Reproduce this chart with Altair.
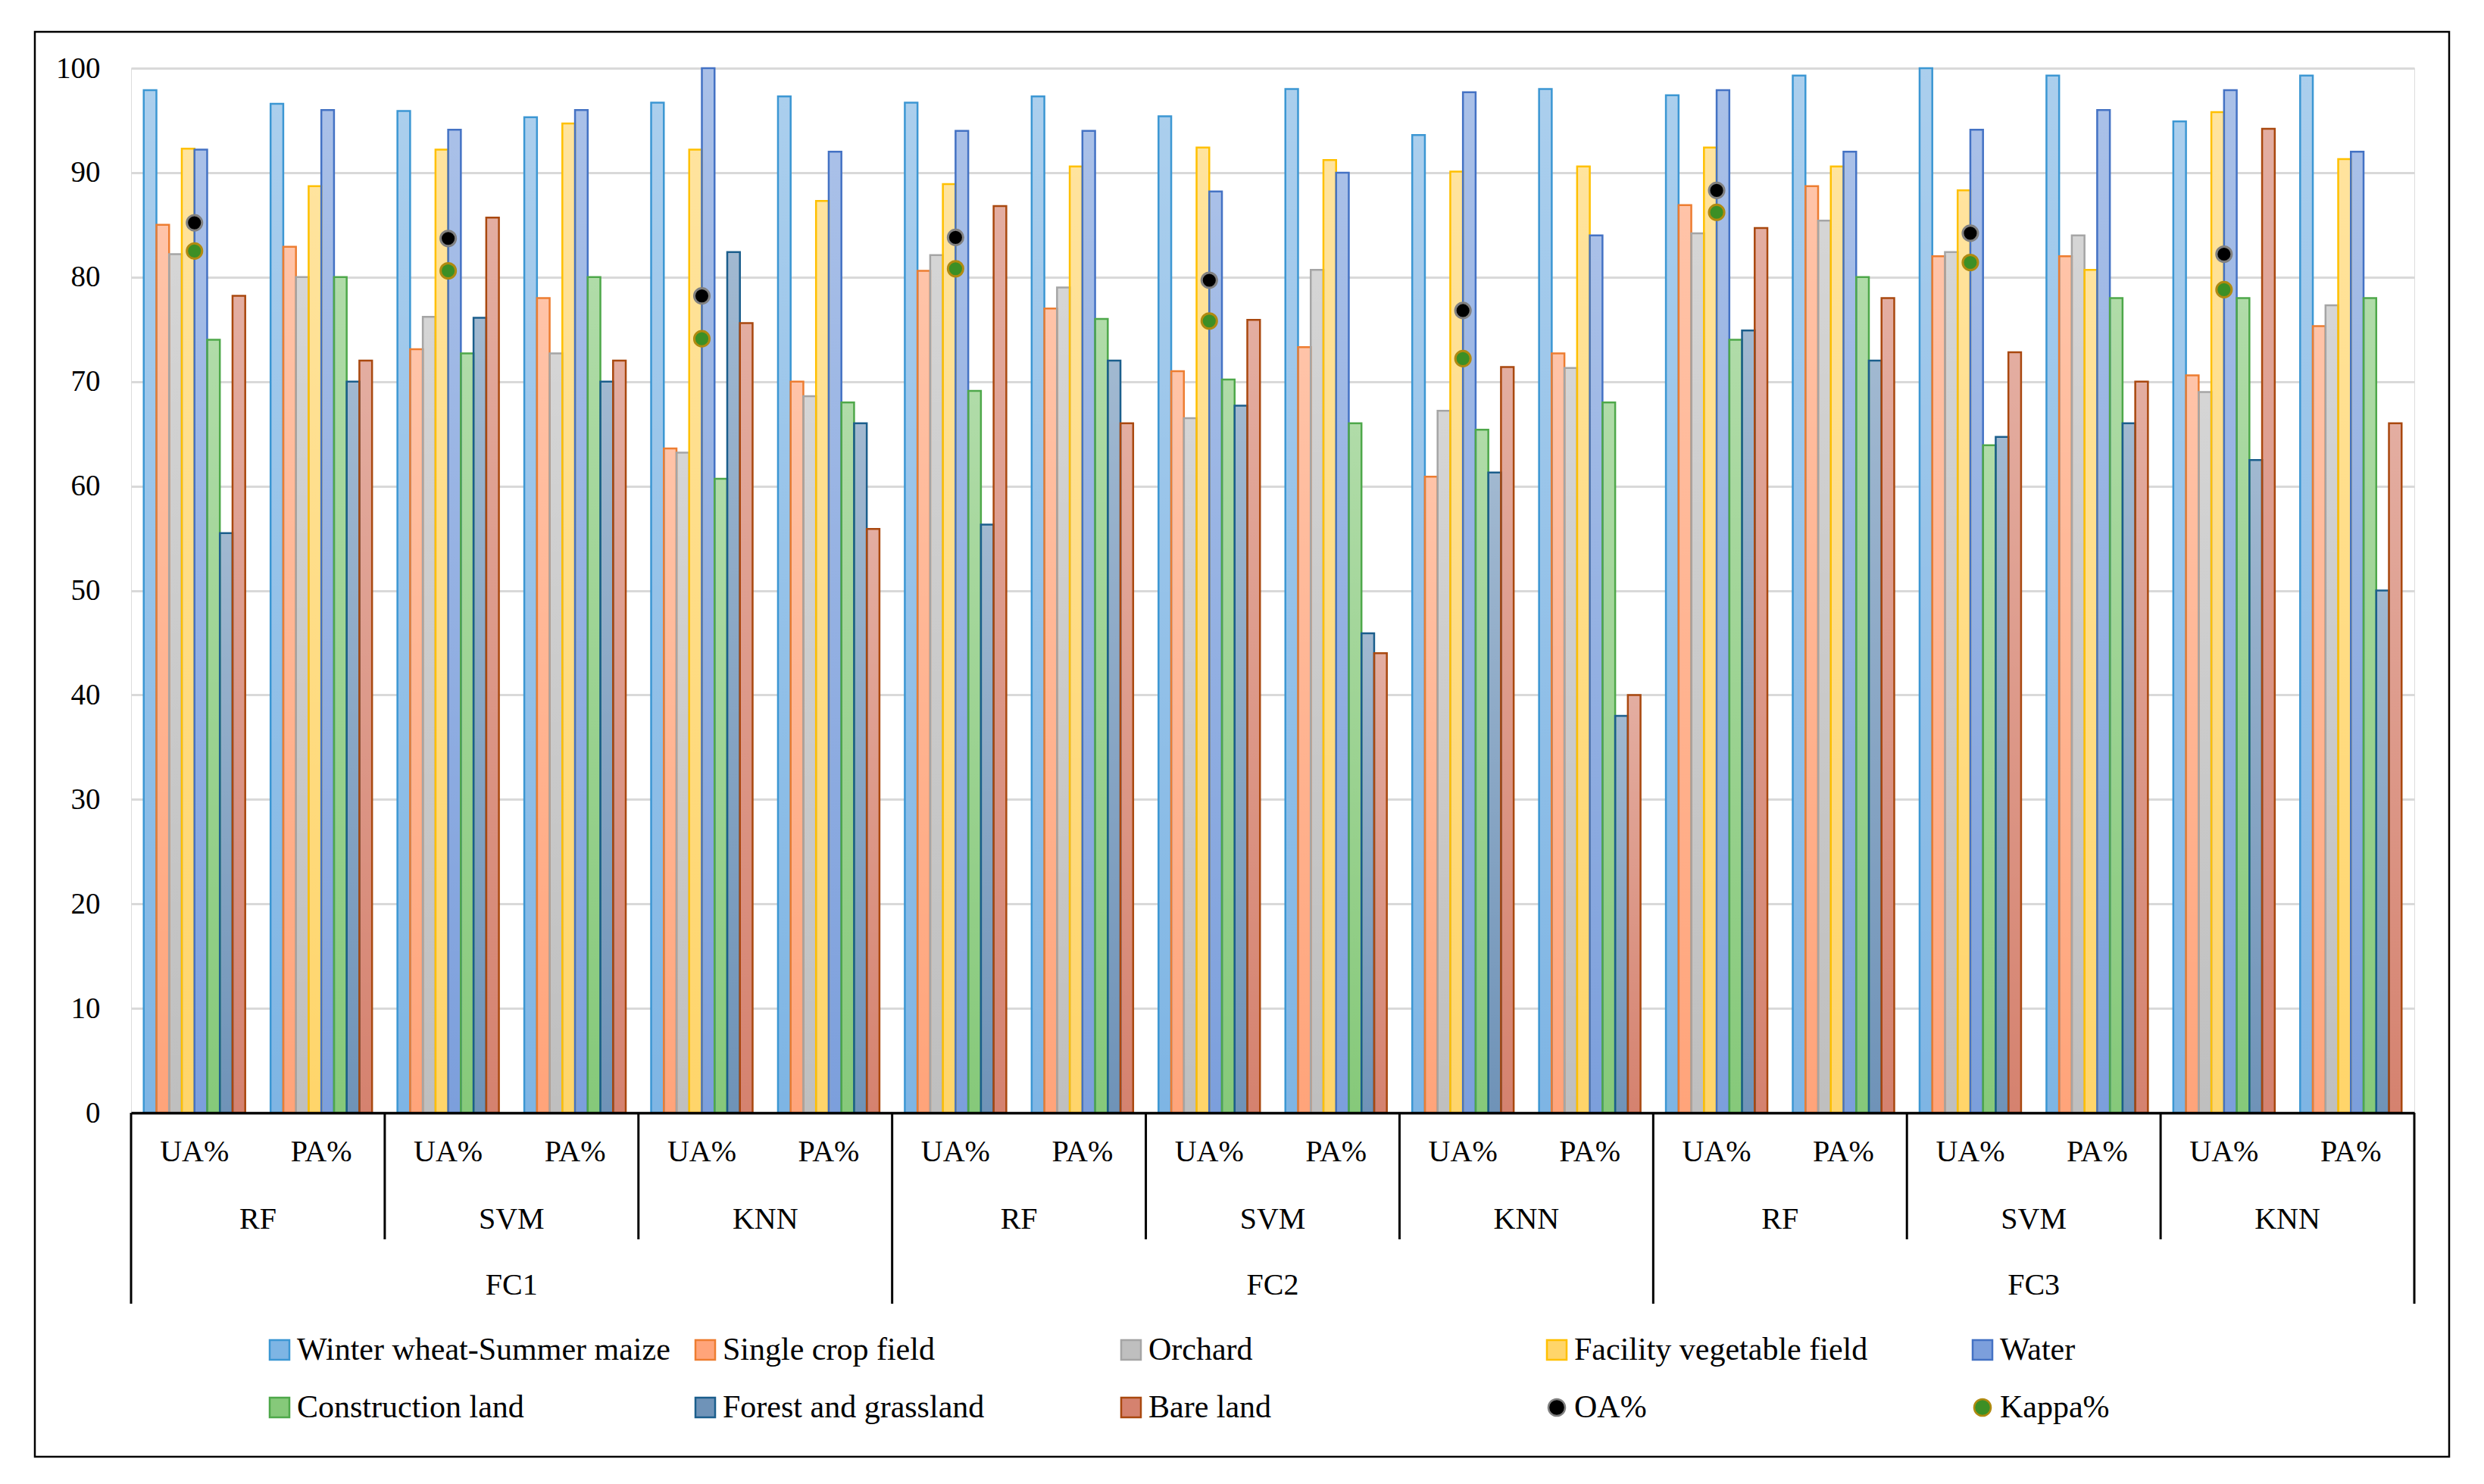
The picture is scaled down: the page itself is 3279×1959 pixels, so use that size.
import altair as alt
import pandas as pd

# ---------------- data ----------------
feature_sets = ["FC1", "FC2", "FC3"]
methods = ["RF", "SVM", "KNN"]
metrics = ["UA%", "PA%"]

classes = [
    "Winter wheat-Summer maize",
    "Single crop field",
    "Orchard",
    "Facility vegetable field",
    "Water",
    "Construction land",
    "Forest and grassland",
    "Bare land",
]

# 18 values each: FC1 RF UA, FC1 RF PA, FC1 SVM UA, ... FC3 KNN PA
winter_wheat = [97.9, 96.6, 95.9, 95.3, 96.7, 97.3, 96.7, 97.3, 95.4, 98.0, 93.6, 98.0, 97.4, 99.3, 100.0, 99.3, 94.9, 99.3]
single_crop = [85.0, 82.9, 73.1, 78.0, 63.6, 70.0, 80.6, 77.0, 71.0, 73.3, 60.9, 72.7, 86.9, 88.7, 82.0, 82.0, 70.6, 75.3]
orchard = [82.2, 80.0, 76.2, 72.7, 63.2, 68.6, 82.1, 79.0, 66.5, 80.7, 67.2, 71.3, 84.2, 85.4, 82.4, 84.0, 69.0, 77.3]
facility = [92.3, 88.7, 92.2, 94.7, 92.2, 87.3, 88.9, 90.6, 92.4, 91.2, 90.1, 90.6, 92.4, 90.6, 88.3, 80.7, 95.8, 91.3]
water = [92.2, 96.0, 94.1, 96.0, 100.0, 92.0, 94.0, 94.0, 88.2, 90.0, 97.7, 84.0, 97.9, 92.0, 94.1, 96.0, 97.9, 92.0]
construction = [74.0, 80.0, 72.7, 80.0, 60.7, 68.0, 69.1, 76.0, 70.2, 66.0, 65.4, 68.0, 74.0, 80.0, 63.9, 78.0, 78.0, 78.0]
forest = [55.5, 70.0, 76.1, 70.0, 82.4, 66.0, 56.3, 72.0, 67.7, 45.9, 61.3, 38.0, 74.9, 72.0, 64.7, 66.0, 62.5, 50.0]
bare = [78.2, 72.0, 85.7, 72.0, 75.6, 55.9, 86.8, 66.0, 75.9, 44.0, 71.4, 40.0, 84.7, 78.0, 72.8, 70.0, 94.2, 66.0]

# 9 values each, for the UA% groups only
oa = [85.2, 83.7, 78.2, 83.8, 79.7, 76.8, 88.3, 84.2, 82.2]
kappa = [82.5, 80.6, 74.1, 80.8, 75.8, 72.2, 86.2, 81.4, 78.8]

series_values = [winter_wheat, single_crop, orchard, facility, water, construction, forest, bare]

cats = [f"{fc}|{m}|{a}" for fc in feature_sets for m in methods for a in metrics]
ua_cats = [c for c in cats if c.endswith("UA%")]

bar_rows = []
for cls, vals in zip(classes, series_values):
    for c, v in zip(cats, vals):
        bar_rows.append({"cat": c, "series": cls, "value": v})
bars_df = pd.DataFrame(bar_rows)

pt_rows = []
for name, vals in (("OA%", oa), ("Kappa%", kappa)):
    for c, v in zip(ua_cats, vals):
        pt_rows.append({"cat": c, "series": name, "value": v})
pts_df = pd.DataFrame(pt_rows)

# hierarchical axis labels (positions in band-step units derived from the category order)
method_rows, fc_rows, msep_rows, fsep_rows = [], [], [], []
n_per_fc = len(methods) * len(metrics)
for fi, fc in enumerate(feature_sets):
    fc_rows.append({"pos": fi * n_per_fc + n_per_fc / 2, "label": fc})
    fsep_rows.append({"pos": fi * n_per_fc})
    for mi, m in enumerate(methods):
        start = fi * n_per_fc + mi * len(metrics)
        method_rows.append({"pos": start + len(metrics) / 2, "label": m})
        if mi > 0:
            msep_rows.append({"pos": start})
fsep_rows.append({"pos": len(cats)})
method_df = pd.DataFrame(method_rows)
fc_df = pd.DataFrame(fc_rows)
msep_df = pd.DataFrame(msep_rows)
fsep_df = pd.DataFrame(fsep_rows)

# ---------------- styling ----------------
FONT = "Liberation Serif"
W, H = 3014, 1379

legend_domain = classes + ["OA%", "Kappa%"]
fill_colors = ["#7EB5E4", "#FFA47A", "#BFBFBF", "#FFD56A", "#7C9FDC", "#86C97A", "#6F93B8", "#D5826F",
               "#000000", "#3C8F25"]
stroke_colors = ["#3C97D3", "#ED7D31", "#A5A5A5", "#FFC000", "#4472C4", "#4EA84A", "#1B5E8C", "#A9480F",
                 "#808080", "#B08A10"]
SQUARE = "M-1,-1L1,-1L1,1L-1,1Z"
CIRCLE = "M0.85,0A0.85,0.85 0 1,1 -0.85,0A0.85,0.85 0 1,1 0.85,0Z"
shapes = [SQUARE] * len(classes) + [CIRCLE, CIRCLE]

legend = alt.Legend(
    title=None, orient="none", legendX=175, legendY=1671, columns=5, direction="horizontal",
    gridAlign="all",
    symbolSize=676, symbolStrokeWidth=2.5, labelFontSize=42, labelFont=FONT, labelColor="black",
    labelLimit=1000, labelOffset=2, columnPadding=25, rowPadding=34, padding=0,
)

fill_enc = alt.Fill("series:N", scale=alt.Scale(domain=legend_domain, range=fill_colors), legend=legend)
stroke_enc = alt.Stroke("series:N", scale=alt.Scale(domain=legend_domain, range=stroke_colors), legend=legend)
shape_enc = alt.Shape("series:N", scale=alt.Scale(domain=legend_domain, range=shapes), legend=legend)

x_enc = alt.X(
    "cat:N", sort=cats, title=None,
    scale=alt.Scale(domain=cats, paddingInner=0.2, paddingOuter=0.1),
    axis=alt.Axis(
        labelExpr="split(datum.label, '|')[2]", labelAngle=0, labelFont=FONT, labelFontSize=40,
        labelColor="black", labelBaseline="middle", labelPadding=51, ticks=False,
        domainColor="black", domainWidth=3.5, grid=False, zindex=1,
    ),
)
xoff_enc = alt.XOffset("series:N", sort=classes, scale=alt.Scale(domain=classes))
y_enc = alt.Y(
    "value:Q", title=None,
    scale=alt.Scale(domain=[0, 100], nice=False),
    axis=alt.Axis(
        values=list(range(0, 101, 10)), domain=False, ticks=False, labelPadding=41,
        labelFont=FONT, labelFontSize=39, labelColor="black",
        grid=True, gridColor="#D9D9D9", gridWidth=3,
    ),
)

base_bars = alt.Chart(bars_df).mark_bar(strokeWidth=0).encode(
    x=x_enc, xOffset=xoff_enc, y=y_enc, fill=fill_enc
)
shine = alt.Chart(bars_df).mark_bar(
    strokeWidth=0,
    fill=alt.LinearGradient(
        gradient="linear", x1=0, x2=0, y1=0, y2=1,
        stops=[alt.GradientStop(color="rgba(255,255,255,0.35)", offset=0),
               alt.GradientStop(color="rgba(255,255,255,0)", offset=1)],
    ),
).encode(x=x_enc, xOffset=xoff_enc, y=y_enc)
outline = alt.Chart(bars_df).mark_bar(fill="transparent", strokeWidth=2.5).encode(
    x=x_enc, xOffset=xoff_enc, y=y_enc, stroke=stroke_enc
)
points = alt.Chart(pts_df).mark_point(filled=True, size=560, strokeWidth=3, opacity=1).encode(
    x=x_enc, y=y_enc, fill=fill_enc, stroke=stroke_enc, shape=shape_enc
)

plot = alt.layer(base_bars, shine, outline, points)

xpos = alt.X("pos:Q", scale=alt.Scale(domain=[0, len(cats)], nice=False, zero=False), axis=None)
msep = alt.Chart(msep_df).mark_rule(color="black", strokeWidth=3).encode(
    x=xpos, y=alt.value(H), y2=alt.value(H + 167)
)
fsep = alt.Chart(fsep_df).mark_rule(color="black", strokeWidth=3).encode(
    x=xpos, y=alt.value(H), y2=alt.value(H + 252)
)
mtext = alt.Chart(method_df).mark_text(font=FONT, fontSize=40, color="black", baseline="middle").encode(
    x=xpos, y=alt.value(H + 141), text="label:N"
)
ftext = alt.Chart(fc_df).mark_text(font=FONT, fontSize=40, color="black", baseline="middle").encode(
    x=xpos, y=alt.value(H + 228), text="label:N"
)
labels = alt.layer(msep, fsep, mtext, ftext)

border = alt.Chart(pd.DataFrame({"a": [0]})).mark_rect(
    fill="transparent", stroke="black", strokeWidth=2.5
).encode(x=alt.value(-127), x2=alt.value(3060), y=alt.value(-48), y2=alt.value(1833))

chart = alt.layer(plot, labels, border).resolve_scale(x="independent").properties(
    width=W, height=H,
    autosize=alt.AutoSizeParams(type="none"),
    padding={"left": 165, "top": 82, "right": 84, "bottom": 482},
).configure_view(stroke=None).configure(background="white")

chart.save("out.html", embed_options={"renderer": "svg", "actions": False})
